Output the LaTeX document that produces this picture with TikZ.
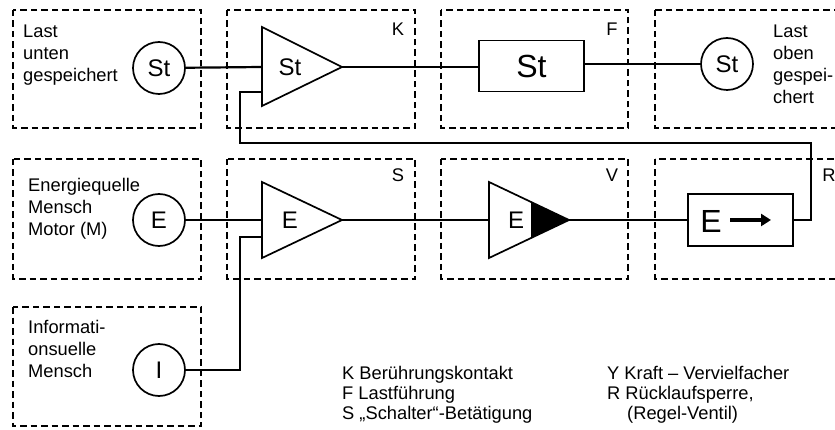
\documentclass[tikz,border=0pt]{standalone}
\usepackage{fontspec}
\setmainfont{Liberation Sans}
\usetikzlibrary{arrows.meta}
\begin{document}
\begin{tikzpicture}[x=1pt,y=-1pt,
  grp/.style={draw, line width=2.6pt, dash pattern=on 6.5pt off 4pt},
  conn/.style={draw, line width=2.2pt},
  shp/.style={draw, line width=1.7pt},
  txt/.style={font=\fontsize{18.3}{22}\selectfont, align=left, anchor=base west, inner sep=0pt},
  leg/.style={font=\fontsize{18.3}{20}\selectfont, align=left, anchor=base west, inner sep=0pt},
  tag/.style={font=\fontsize{18.3}{20}\selectfont, inner sep=0pt},
  src/.style={circle, shp, minimum size=52pt, inner sep=0pt, font=\fontsize{24}{24}\selectfont},
  tl/.style={inner sep=0pt, font=\fontsize{24}{24}\selectfont},
  blk/.style={rectangle, shp, minimum width=105pt, minimum height=51pt, inner sep=0pt}]
\useasboundingbox (0,0) rectangle (835,430);
\clip (0,0) rectangle (835,430);
% group frames
\draw[grp] (13,10) rectangle (201,128);
\draw[grp] (227,10) rectangle (415,128);
\draw[grp] (441,10) rectangle (628,128);
\draw[grp] (655,10) rectangle (850,128);
\draw[grp] (13,159) rectangle (201,279);
\draw[grp] (227,159) rectangle (415,279);
\draw[grp] (441,159) rectangle (628,279);
\draw[grp] (655,159) rectangle (850,279);
\draw[grp] (13,307) rectangle (201,426);
% frame tags
\node[tag] (tK) at (398,29) {K};
\node[tag] (tF) at (612,29) {F};
\node[tag] (tS) at (398,175) {S};
\node[tag] (tV) at (612,175) {V};
\node[tag] (tR) at (829,175) {R};
% texts (anchored at the baseline of their last line)
\node[txt] (t1) at (23,82) {Last\\unten\\gespeichert};
\node[txt] (t2) at (773,104) {Last\\oben\\gespei-\\chert};
\node[txt] (t3) at (28,236) {Energiequelle\\Mensch\\Motor (M)};
\node[txt] (t4) at (28,377) {Informati-\\onsuelle\\Mensch};
\node[leg] (l1) at (342,419) {K Berührungskontakt\\F Lastführung\\S „Schalter“-Betätigung};
\node[leg] (l2) at (607,419) {Y Kraft – Vervielfacher\\R Rücklaufsperre,\\\hspace*{20pt}(Regel-Ventil)};
% sources
\node[src] (St1) at (159,68) {St};
\node[src] (E1) at (159,220) {E};
\node[src] (I1) at (159,370) {I};
\node[src] (St2) at (727,64) {St};
% triangle K
\draw[shp] (262,27) -- (342,67) -- (262,106) -- cycle;
\coordinate (Kin) at (262,67);
\coordinate (Kout) at (342,67);
\coordinate (Kfb) at (262,92);
\node[tl] (Kl) at (290,67) {St};
% block F
\node[blk] (Fb) at (531.5,66) {\fontsize{32}{32}\selectfont St};
% triangle S
\draw[shp] (262,182) -- (342,220) -- (262,258) -- cycle;
\coordinate (Sin) at (262,220);
\coordinate (Sout) at (342,220);
\coordinate (Sfb) at (262,237);
\node[tl] (Sl) at (290,220) {E};
% triangle V
\draw[shp] (489,182) -- (569,220) -- (489,258) -- cycle;
\fill (532,202.4) -- (569,220) -- (532,237.6) -- cycle;
\draw[shp] (532,202.4) -- (532,237.6);
\coordinate (Vin) at (489,220);
\coordinate (Vout) at (569,220);
\node[tl] (Vl) at (516,220) {E};
% block R
\node[blk, minimum height=52pt] (Rb) at (740.5,220) {};
\node[inner sep=0pt, font=\fontsize{32}{32}\selectfont] (Rl) at (711,221) {E};
\coordinate (Ra) at (730,220);
\coordinate (Rb2) at (771,220);
\draw[line width=3.2pt, -{Triangle[length=10pt,width=12pt]}] (Ra) -- (Rb2);
% connectors
\draw[conn] (St1) -- (Kin);
\draw[conn] (Kout) -- (Fb.west |- Kout);
\draw[conn] (Fb.east |- St2) -- (St2);
\draw[conn] (E1) -- (Sin);
\draw[conn] (Sout) -- (Vin);
\draw[conn] (Vout) -- (Rb);
\coordinate (fbA) at (811,143);
\coordinate (fbB) at (240,143);
\draw[conn] (Rb.east) -| (fbA) -- (fbB) |- (Kfb);
\coordinate (iA) at (240,370);
\draw[conn] (I1) -- (iA) |- (Sfb);
\end{tikzpicture}
\end{document}
